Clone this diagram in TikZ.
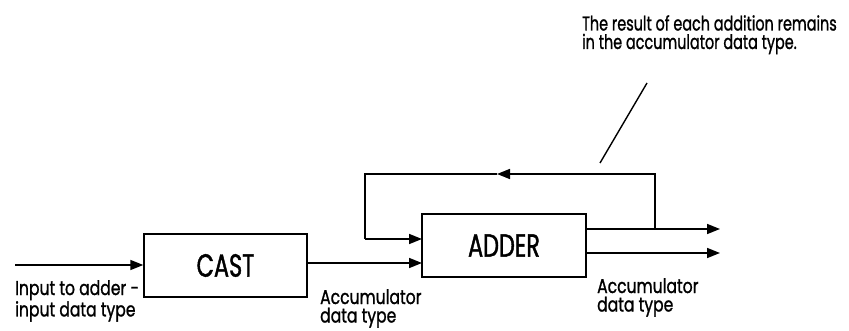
\documentclass[tikz,border=0pt]{standalone}
\usepackage{fontspec}
\setmainfont{Poppins}[FakeBold=1.3]
\newfontfamily\boxfont{Poppins}[FakeStretch=0.7,FakeBold=1.3]
\usetikzlibrary{arrows.meta}
\begin{document}
\begin{tikzpicture}[x=1pt,y=-1pt,
  conn/.style={line width=1.6pt,-{Triangle[length=13pt,width=10pt]}},
  plain/.style={line width=1.6pt},
  blockbox/.style={draw,line width=1.4pt,minimum width=163pt,minimum height=63pt,inner sep=0pt,font=\boxfont\fontsize{32}{34}\selectfont},
  lbl/.style={anchor=north west,inner sep=0pt,align=left,xscale=0.78,transform shape,font=\fontsize{20}{18.5}\selectfont}]
\useasboundingbox (0,0) rectangle (849,331);
\node[blockbox] (cast) at (225.5,265.5) {CAST};
\node[blockbox,minimum width=164pt] (adder) at (504,245.5) {ADDER};
\coordinate (src) at (15,265);
\coordinate (in1) at (422,239);
\coordinate (in2) at (422,263);
\coordinate (o1s) at (586,229);
\coordinate (o2s) at (586,253);
\coordinate (split) at (655,229);
\coordinate (o1) at (720,229);
\coordinate (o2) at (720,253);
\coordinate (mid) at (497,174);
\coordinate (tl) at (365,174);
\coordinate (a1) at (647,83);
\coordinate (a2) at (600,163);
\draw[conn] (src) -- (cast.west |- src);
\draw[conn] (cast.east |- in2) -- (in2);
\draw[conn] (o1s) -- (o1);
\draw[conn] (o2s) -- (o2);
\draw[conn] (split) |- (mid);
\draw[plain] (mid) -- (tl) -- (tl |- in1);
\draw[conn] (tl |- in1) -- (in1);
\draw[line width=1.4pt] (a1) -- (a2);
\node[lbl] (l1) at (15,280) {Input to adder -\\input data type};
\node[lbl] (l2) at (320,289) {Accumulator\\data type};
\node[lbl] (l3) at (597,278) {Accumulator\\data type};
\node[lbl,xscale=0.72/0.78] (l4) at (582,15) {The result of each addition remains\\in the accumulator data type.};
\end{tikzpicture}
\end{document}
